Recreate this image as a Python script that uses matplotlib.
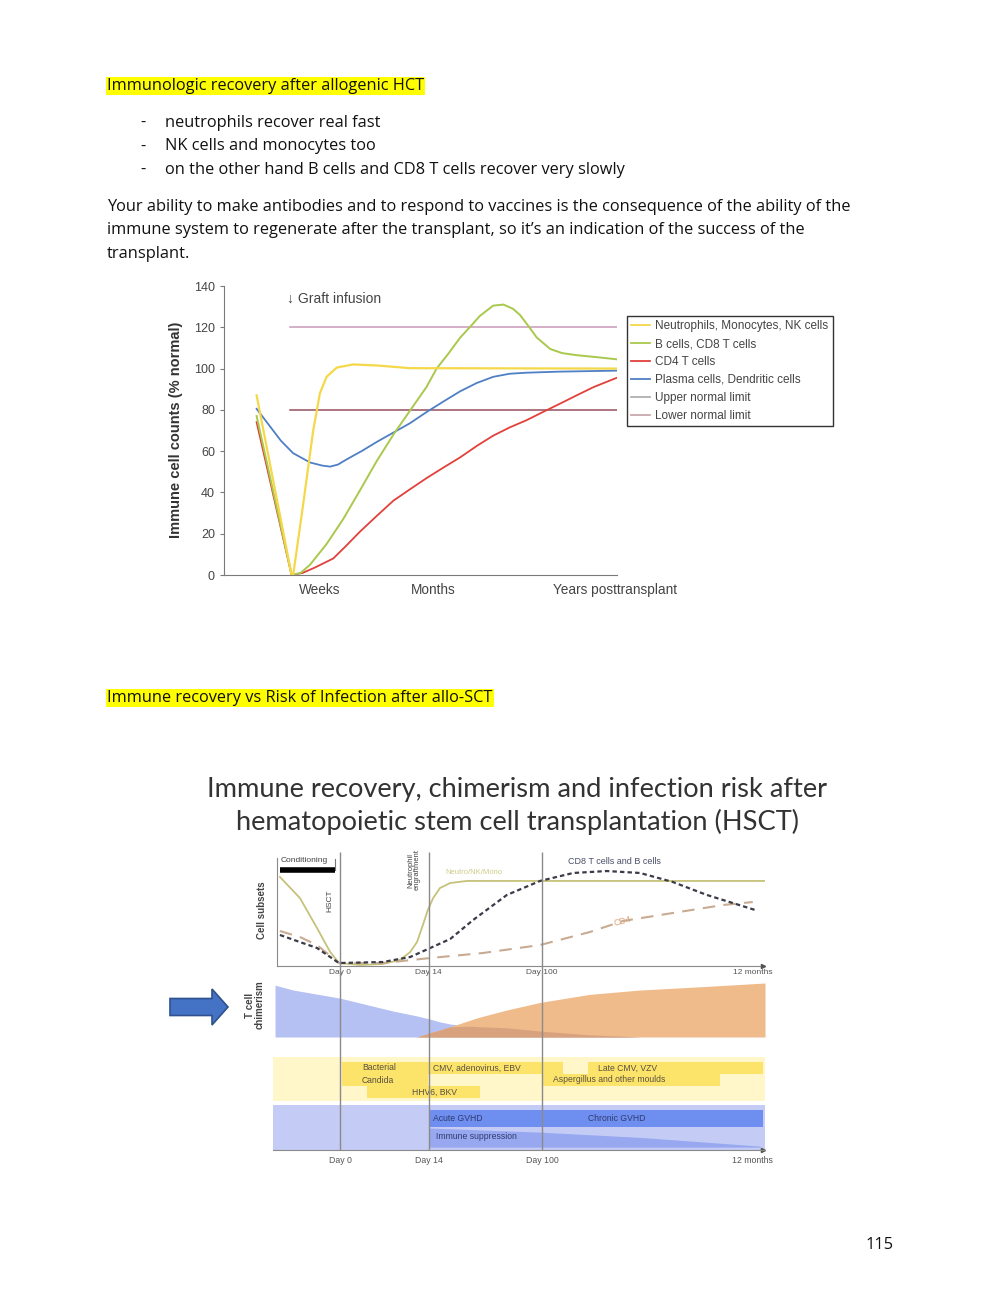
import matplotlib
matplotlib.use("Agg")
import numpy as np
import matplotlib.pyplot as plt
import matplotlib.patches as mpatches
from matplotlib.lines import Line2D

plt.rcParams['font.family'] = ['Liberation Sans', 'DejaVu Sans']

# ---------------- page text ----------------
heading1 = "Immunologic recovery after allogenic HCT"
bullets = ["neutrophils recover real fast",
           "NK cells and monocytes too",
           "on the other hand B cells and CD8 T cells recover very slowly"]
paragraph = ["Your ability to make antibodies and to respond to vaccines is the consequence of the ability of the",
             "immune system to regenerate after the transplant, so it\u2019s an indication of the success of the",
             "transplant."]
heading2 = "Immune recovery vs Risk of Infection after allo-SCT"
page_number = "115"

# ---------------- chart 1 data (x: time scale 0-100, y: % normal) ----------------
neutro_x = [8.3, 17.2, 17.6, 20.2, 22.7, 24.4, 26.1, 28.7, 32.9, 38.9, 47.3, 99.9]
neutro_y = [87, 0, 0, 35, 70, 88, 96, 100.5, 102, 101.5, 100.2, 100]

bcell_x = [8.3, 17.2, 19.5, 21.9, 26.1, 30.3, 34.6, 38.8, 43.1, 48.2, 51.5, 54.1, 57.0, 60.1,
           63.0, 65.1, 68.5, 71.1, 73.5, 75.3, 77.5, 79.6, 83.0, 86.0, 89.7, 95.0, 99.9]
bcell_y = [77, 0, 1, 5, 15, 27, 41, 55, 68, 82, 91, 100, 107, 115,
           121, 125.5, 130.5, 131, 129, 126, 120.5, 115, 109.5, 107.5, 106.5, 105.5, 104.5]

cd4_x = [8.3, 17.2, 20.0, 23.0, 27.8, 31.0, 34.6, 38.8, 43.1, 47.3, 51.6, 55.8, 60.1, 64.3,
         68.5, 72.7, 77.0, 81.2, 85.5, 89.7, 94.0, 99.9]
cd4_y = [74, 0, 1, 3.5, 8, 14, 21, 28.5, 36, 41.5, 47, 52, 57, 62.5,
         67.5, 71.5, 75, 79, 83, 87, 91, 95.5]

plasma_x = [8.3, 11.7, 14.5, 17.6, 21.9, 25.0, 27.0, 29.0, 31.2, 35.0, 38.9, 43.1, 47.3,
            51.6, 55.8, 60.1, 64.3, 68.5, 72.7, 77.0, 85.0, 99.9]
plasma_y = [80.5, 72, 65, 59, 54.5, 53, 52.5, 53.5, 56, 60, 64.5, 69, 73.5,
            79, 84, 89, 93, 96, 97.5, 98, 98.5, 99]

limit_x = [16.8, 99.9]
upper_limit = 120
lower_limit = 80
graft_x = 16.0
graft_y = 134

time_labels = ["Weeks", "Months", "Years posttransplant"]
time_pos = [24.4, 53.2, 99.5]

legend_labels = ["Neutrophils, Monocytes, NK cells", "B cells, CD8 T cells", "CD4 T cells",
                 "Plasma cells, Dendritic cells", "Upper normal limit", "Lower normal limit"]

# ---------------- chart 2 data (x: timeline 0-100) ----------------
title2 = ["Immune recovery, chimerism and infection risk after",
          "hematopoietic stem cell transplantation (HSCT)"]
day_labels = ["Day 0", "Day 14", "Day 100", "12 months"]
day_pos = [12.9, 31.1, 54.3, 97.5]

cs_neutro_x = [0.6, 4.7, 8.2, 10.9, 12.7, 17.0, 21.7, 25.2, 27.3, 28.7, 29.9, 30.9, 32.0, 33.4, 35.5, 38.9, 100]
cs_neutro_y = [78.1, 59.6, 33.3, 12.3, 2.6, 0.9, 1.8, 5.3, 12.3, 21.1, 36, 49.1, 59.6, 68.4, 72.8, 74.6, 74.6]
cs_cd8_x = [0.6, 4.7, 8.2, 12.7, 21.7, 27.3, 31.4, 35.5, 40.2, 47.1, 53.9, 60.7, 67.6, 74.4, 81.1, 88.1, 98]
cs_cd8_y = [27.2, 21, 15.8, 2.6, 3.5, 7.9, 15.8, 23.7, 40.4, 62.3, 74.6, 81.6, 83.3, 81.6, 73.7, 62.3, 49.1]
cs_cd4_x = [0.6, 4.7, 8.2, 12.7, 21.7, 31.4, 42.2, 53.9, 64.1, 70.9, 81.1, 91.4, 97.5]
cs_cd4_y = [30.7, 25.4, 18.4, 2.6, 2.6, 7, 11.4, 18.4, 29.8, 39.5, 46.5, 53.5, 56.1]
conditioning = [0.6, 11.9]

chim_x = [-0.4, 3.3, 12.9, 23.8, 28.7, 31.4, 33.4, 35.5, 39.5, 41.6, 47.1, 53.9, 64.1, 74.4, 86.7, 100]
recipient = [96, 87, 72, 48, 39, 33, 28, 24, 20, 19, 17, 11, 4, 0, 0, 0]
donor = [0, 0, 0, 0, 0, 8, 13, 19, 31, 37, 50, 64, 79, 87, 93, 100]

risk_names = ["Bacterial\nCandida", "CMV, adenovirus, EBV", "HHV6, BKV",
              "Aspergillus and other moulds", "Late CMV, VZV"]
risk_start = [13.3, 30.9, 18.4, 54.5, 63.7]
risk_end = [30.9, 58.6, 41.6, 90.8, 99.6]
risk_row = [0.5, 0, 2, 1, 0]
risk_span = [2, 1, 1, 1, 1]
risk_text_x = [17.4, 32.0, 27.7, 56.6, 65.8]

gvhd_start = 31.1
gvhd_end = 99.6
gvhd_labels = ["Acute GVHD", "Chronic GVHD"]
gvhd_text_x = [32.0, 63.8]
immsup_x = [31.1, 54.3, 75.0, 99.0]
immsup_level = [1.0, 0.78, 0.5, 0.05]

# ---------------- figure ----------------
fig = plt.figure(figsize=(10, 12.94), dpi=100)
W, H = 1000, 1294


def box(x0, y0, x1, y1):
    return [x0 / W, 1 - y1 / H, (x1 - x0) / W, (y1 - y0) / H]


pg = fig.add_axes([0, 0, 1, 1])
pg.set_xlim(0, W)
pg.set_ylim(H, 0)
pg.axis('off')

body = dict(family='Open Sans', fontsize=11.8, color='#111111', va='center')
hl = dict(boxstyle='square,pad=0.08', fc='#ffff00', ec='none')
pg.text(107, 86, heading1, bbox=hl, **body)
for i, b in enumerate(bullets):
    pg.text(140, 123 + i * 23.5, "-", **body)
    pg.text(165, 123 + i * 23.5, b, **body)
for i, line in enumerate(paragraph):
    pg.text(107, 207 + i * 23.5, line, **body)
pg.text(107, 698, heading2, bbox=hl, **body)
pg.text(880, 1245, page_number, ha='center', **body)

# ---- chart 1 ----
ax1 = fig.add_axes(box(224, 286, 617, 575))
c_yel, c_grn, c_red, c_blu = '#f4d84a', '#a9c84c', '#e2403a', '#4f7fc4'
ax1.plot(limit_x, [upper_limit] * 2, color='#c79ab9', lw=1.1)
ax1.plot(limit_x, [lower_limit] * 2, color='#94505e', lw=1.1)
ax1.plot(plasma_x, plasma_y, color=c_blu, lw=1.3)
ax1.plot(cd4_x, cd4_y, color=c_red, lw=1.3)
ax1.plot(bcell_x, bcell_y, color=c_grn, lw=1.4)
ax1.plot(neutro_x, neutro_y, color=c_yel, lw=1.6)
ax1.set_xlim(0, 100)
ax1.set_ylim(0, 140)
for s in ['top', 'right']:
    ax1.spines[s].set_visible(False)
for s in ['left', 'bottom']:
    ax1.spines[s].set_color('#7a7a7a')
ax1.set_yticks(range(0, 141, 20))
ax1.tick_params(axis='y', labelsize=9, colors='#444444', length=3, color='#7a7a7a')
ax1.set_xticks(time_pos)
ax1.set_xticklabels(time_labels)
ax1.tick_params(axis='x', length=0, labelsize=9.8, colors='#444444', pad=6)
ax1.text(graft_x, graft_y, "\u2193 Graft infusion", fontsize=10, color='#444444', va='center')
pg.text(176, 430, "Immune cell counts (% normal)", rotation=90, fontsize=10.5, fontweight='bold',
        color='#333333', ha='center', va='center')

handles = [Line2D([], [], color=c, lw=1.3) for c in [c_yel, c_grn, c_red, c_blu, '#b0b0b0', '#c8a8ad']]
leg = ax1.legend(handles, legend_labels, loc='upper left', bbox_to_anchor=(627 / W, 1 - 316 / H),
                 bbox_transform=fig.transFigure, borderaxespad=0, fontsize=8.5, fancybox=False,
                 edgecolor='#333333', framealpha=1, handlelength=1.6, handletextpad=0.45,
                 labelspacing=0.5, borderpad=0.35)
leg.get_frame().set_linewidth(1.0)
for t in leg.get_texts():
    t.set_color('#444444')

# ---- chart 2 ----
for i, line in enumerate(title2):
    pg.text(517, 790 + i * 32, line, family='Lato', fontsize=19.6, color='#333333', ha='center', va='center')

XL = (-0.82, 100)

# cell subsets
axc = fig.add_axes(box(273, 852, 765, 966))
axc.set_xlim(*XL)
axc.set_ylim(0, 100)
axc.patch.set_alpha(0)
axc.plot(cs_neutro_x, cs_neutro_y, color='#c6c27a', lw=1.3)
axc.plot(cs_cd4_x, cs_cd4_y, color='#c9ab92', lw=1.5, dashes=(6, 4))
axc.plot(cs_cd8_x, cs_cd8_y, color='#3b3b4a', lw=1.6, dashes=(2, 1.4))
for s in ['top', 'right']:
    axc.spines[s].set_visible(False)
axc.spines['left'].set_position(('data', 0))
axc.spines['left'].set_bounds(0, 95)
axc.spines['bottom'].set_bounds(0, 99)
for s in ['left', 'bottom']:
    axc.spines[s].set_color('#8a8a8a')
axc.plot(99.5, 0, '>', color='#555555', ms=3, clip_on=False)
axc.set_yticks([])
axc.set_xticks(day_pos)
axc.set_xticklabels(day_labels)
axc.tick_params(axis='x', length=0, labelsize=6, colors='#555555', pad=2)
axc.plot(conditioning, [84, 84], color='black', lw=4, solid_capstyle='butt')
axc.plot([conditioning[1]] * 2, [84, 94], color='#777777', lw=0.8)
pg.text(281, 861, "Conditioning", fontsize=6, color='#444444', va='center')
pg.text(330, 901, "HSCT", rotation=90, fontsize=6, color='#444444', ha='center', va='center')
pg.text(414, 870, "Neutrophil\nengraftment", rotation=90, fontsize=5.5, color='#444444',
        ha='center', va='center', linespacing=1.0)
pg.text(445, 872, "Neutro/NK/Mono", fontsize=5.5, color='#cfcc88', va='center')
pg.text(568, 862, "CD8 T cells and B cells", fontsize=6.5, color='#4a4f66', va='center')
pg.text(613, 921, "CD4", fontsize=6.5, color='#e0a070', va='center', rotation=15)
pg.text(262, 910, "Cell subsets", rotation=90, fontsize=7, fontweight='bold', color='#444444',
        ha='center', va='center')

# chimerism
axm = fig.add_axes(box(273, 983, 765, 1037))
axm.set_xlim(*XL)
axm.set_ylim(0, 100)
axm.axis('off')
axm.fill_between(chim_x, 0, recipient, color='#b5c0f3', lw=0)
axm.fill_between(chim_x, 0, donor, color='#efbb8a', lw=0)
axm.fill_between(chim_x, 0, np.minimum(recipient, donor), color='#d8a27f', lw=0)
pg.text(287, 1021, "Recipient", fontsize=7, fontweight='bold', color='#5a64a8', va='center')
pg.text(695, 1021, "Donor", fontsize=7, fontweight='bold', color='#a0502e', ha='center', va='center')
pg.text(255, 1005, "T cell\nchimerism", rotation=90, fontsize=7, fontweight='bold', color='#444444',
        ha='center', va='center', linespacing=1.0)
pg.add_patch(mpatches.FancyArrow(170, 1007, 58, 0, width=17, head_width=36, head_length=16,
                                 length_includes_head=True, fc='#4472c4', ec='#2f528f', lw=1.2))

# infectious risks
axi = fig.add_axes(box(273, 1057, 765, 1101))
axi.set_xlim(*XL)
axi.set_ylim(2.75, -0.9)
axi.set_facecolor('#fff6c9')
for s in axi.spines.values():
    s.set_visible(False)
axi.set_xticks([])
axi.set_yticks([])
for x0, x1, r, sp in zip(risk_start, risk_end, risk_row, risk_span):
    axi.barh(r, x1 - x0, left=x0, height=sp, color='#fce46b', lw=0)
for name, r, tx in zip(risk_names, risk_row, risk_text_x):
    axi.text(tx, r, name, fontsize=6.2, color='#5a5040', va='center', linespacing=1.5)
pg.text(283, 1078, "Infectious\nrisks", fontsize=6.5, fontweight='bold', color='#444444', va='center')

# clinical variables
axl = fig.add_axes(box(273, 1105, 765, 1150))
axl.set_xlim(*XL)
axl.set_ylim(1.85, -0.79)
axl.set_facecolor('#c4cbf5')
for s in ['top', 'right', 'left']:
    axl.spines[s].set_visible(False)
axl.spines['bottom'].set_color('#8a8a8a')
axl.plot(99.5, 1.85, '>', color='#555555', ms=3, clip_on=False)
axl.barh(0, gvhd_end - gvhd_start, left=gvhd_start, height=1, color='#6f8ff0', lw=0)
axl.fill_between(immsup_x, 1.68, 1.68 - 1.12 * np.array(immsup_level), color='#97a8f0', lw=0)
for lab, tx in zip(gvhd_labels, gvhd_text_x):
    axl.text(tx, 0, lab, fontsize=6.2, color='#2f3a70', va='center')
axl.text(gvhd_text_x[0] + 0.6, 1.05, "Immune suppression", fontsize=6.2, color='#2f3a70', va='center')
axl.set_yticks([])
axl.set_xticks(day_pos)
axl.set_xticklabels(day_labels)
axl.tick_params(axis='x', length=0, labelsize=6.3, colors='#555555', pad=4)
pg.text(281, 1127, "Clinical\nvariables", fontsize=6.5, fontweight='bold', color='#2f3a70', va='center')

# day marker lines across all panels
axv = fig.add_axes(box(273, 852, 765, 1150))
axv.set_xlim(*XL)
axv.set_ylim(0, 1)
axv.axis('off')
axv.vlines(day_pos[:3], 0, 1, color='#8a8a8a', lw=1)

fig.savefig("out.png", dpi=100)
